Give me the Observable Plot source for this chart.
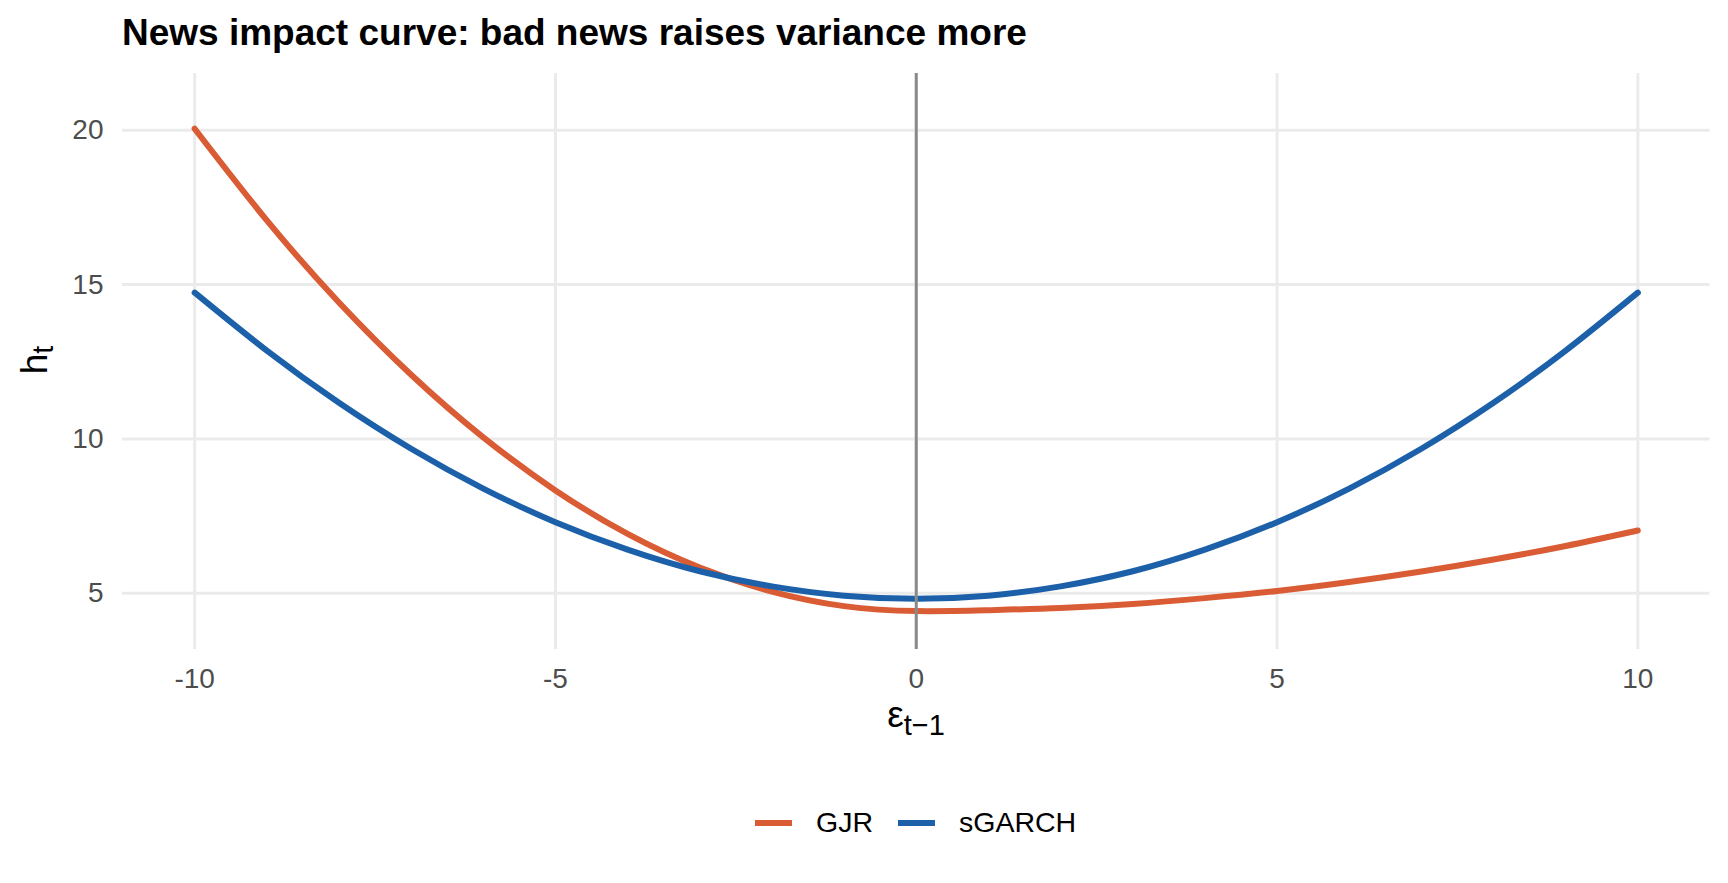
<!DOCTYPE html>
<html>
<head>
<meta charset="utf-8">
<script src="https://cdn.jsdelivr.net/npm/d3@7"></script>
<script src="https://cdn.jsdelivr.net/npm/@observablehq/plot@0.6"></script>
<style>
  html, body { margin: 0; padding: 0; background: #ffffff; }
  body { width: 1728px; height: 883px; position: relative; overflow: hidden; font-family: "Liberation Sans", Arial, Helvetica, sans-serif; }
  #title { position: absolute; left: 122px; top: 14px; font-size: 37px; line-height: 37px; font-weight: bold; color: #000; white-space: nowrap; }
  #chart { position: absolute; left: 0; top: 62px; }
  #legend { position: absolute; left: 755px; top: 808px; height: 29px; display: flex; align-items: center; font-size: 28.5px; line-height: 29px; color: #000; white-space: nowrap; }
  .sw { width: 37px; height: 6px; }
  .lab { margin-left: 24px; margin-right: 25px; }
</style>
</head>
<body>
<div id="title">News impact curve: bad news raises variance more</div>
<div id="chart"></div>
<div id="legend"></div>
<script>
// ---- data ----
const models = ["GJR", "sGARCH"];
const colors = ["#D95C35", "#1B60A8"];
const eps = [-10, -9, -8, -7, -6, -5, -4, -3, -2, -1, 0, 1, 2, 3, 4, 5, 6, 7, 8, 9, 10];
const gjrValues = [20.05, 17.08, 14.42, 12.08, 10.05, 8.33, 6.92, 5.83, 5.05, 4.58, 4.42, 4.45, 4.52, 4.65, 4.84, 5.07, 5.36, 5.70, 6.09, 6.53, 7.03];
const sgarchValues = [14.74, 12.86, 11.17, 9.68, 8.39, 7.30, 6.41, 5.71, 5.22, 4.92, 4.82, 4.92, 5.22, 5.71, 6.41, 7.30, 8.39, 9.68, 11.17, 12.86, 14.74];
const xTicks = [-10, -5, 0, 5, 10];
const yTicks = [5, 10, 15, 20];
const xDomain = [-11, 11];
const yDomain = [3.175, 21.84];

const rows = [];
eps.forEach((e, i) => rows.push({model: "GJR", eps: e, h: gjrValues[i]}));
eps.forEach((e, i) => rows.push({model: "sGARCH", eps: e, h: sgarchValues[i]}));

const plot = Plot.plot({
  width: 1728,
  height: 700,
  marginTop: 11,
  marginBottom: 113,
  marginLeft: 122,
  marginRight: 18.5,
  style: {background: "#ffffff", fontFamily: "'Liberation Sans', Arial, Helvetica, sans-serif", overflow: "visible"},
  x: {domain: xDomain, label: null},
  y: {domain: yDomain, label: null},
  color: {domain: models, range: colors},
  marks: [
    Plot.gridX(xTicks, {stroke: "#ebebeb", strokeOpacity: 1, strokeWidth: 3}),
    Plot.gridY(yTicks, {stroke: "#ebebeb", strokeOpacity: 1, strokeWidth: 3}),
    Plot.axisX({ticks: xTicks, tickSize: 0, tickPadding: 19, fontSize: 28, fill: "#4d4d4d", tickFormat: d => String(d), label: null}),
    Plot.axisY({ticks: yTicks, tickSize: 0, tickPadding: 19, fontSize: 28, fill: "#4d4d4d", tickFormat: d => String(d), label: null}),
    Plot.line(rows, {x: "eps", y: "h", z: "model", stroke: "model", strokeWidth: 6, curve: "natural"}),
    Plot.ruleX([0], {stroke: "#8a8a8a", strokeWidth: 3})
  ]
});
document.getElementById("chart").appendChild(plot);

// axis titles with subscripts
const svg = d3.select(plot);
const xt = svg.append("text")
  .attr("x", 916).attr("y", 665)
  .attr("text-anchor", "middle")
  .attr("font-size", 37).attr("fill", "#000");
xt.append("tspan").text("ε");
xt.append("tspan").attr("dy", 8).attr("font-size", 29).text("t−1");

const yt = svg.append("text")
  .attr("transform", "translate(47,298) rotate(-90)")
  .attr("text-anchor", "middle")
  .attr("font-size", 37).attr("fill", "#000");
yt.append("tspan").text("h");
yt.append("tspan").attr("dy", 6).attr("font-size", 29).text("t");

// legend
const leg = d3.select("#legend");
models.forEach((m, i) => {
  leg.append("div").attr("class", "sw").style("background", colors[i]);
  leg.append("div").attr("class", "lab").text(m);
});
</script>
</body>
</html>
